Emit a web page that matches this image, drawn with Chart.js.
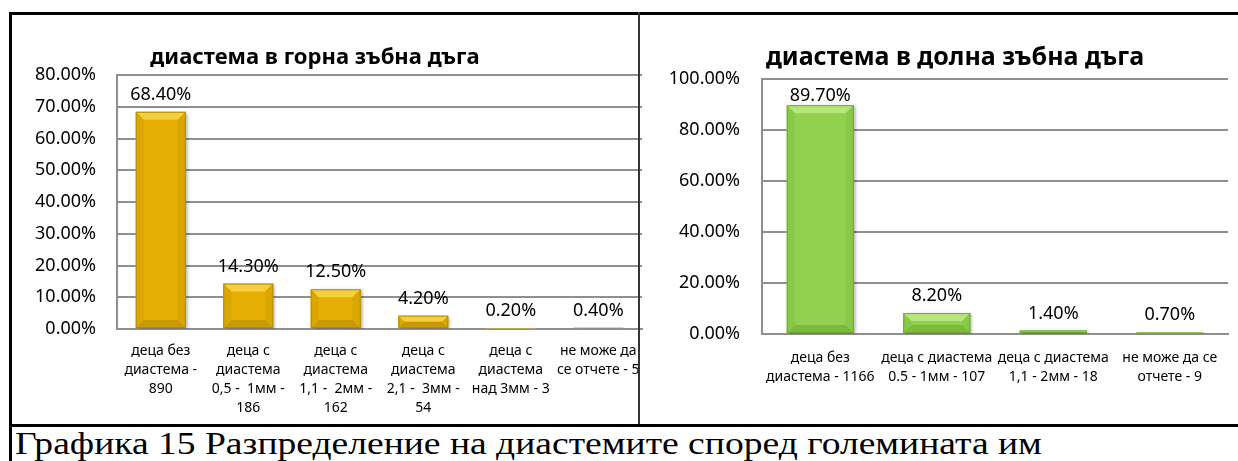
<!DOCTYPE html>
<html>
<head>
<meta charset="utf-8">
<script src="https://cdn.jsdelivr.net/npm/chart.js@4.4.1/dist/chart.umd.min.js"></script>
<style>
  html, body { margin: 0; padding: 0; background: #fff; }
  body { width: 1238px; height: 461px; position: relative; overflow: hidden; }
  .box { position: absolute; overflow: hidden; }
  .box canvas { position: absolute; top: 0; }
  .ln { position: absolute; background: #000; z-index: 5; }
  .ttl { position: absolute; width: 440px; text-align: center; font-family: "Noto Sans", sans-serif; font-weight: bold; color: #000; white-space: nowrap; z-index: 4; }
  #caption { position: absolute; left: 15px; top: 427px; font: 32px/32px "Liberation Serif", "Times New Roman", serif; white-space: nowrap; color: #000; transform: scaleX(1.174); transform-origin: 0 0; }
</style>
</head>
<body>
<div class="box" style="left:0;top:0;width:643px;height:424px"><canvas id="upper" width="657" height="425" style="left:-12px"></canvas></div>
<div class="box" style="left:640px;top:0;width:598px;height:424px"><canvas id="lower" width="598" height="425" style="left:0"></canvas></div>
<div class="ttl" id="upperTitle" style="left:95px;top:42px;font-size:22px;line-height:26px"></div>
<div class="ttl" id="lowerTitle" style="left:735px;top:40px;font-size:25px;line-height:30px"></div>
<div class="ln" style="left:9px;top:12px;width:1229px;height:3px"></div>
<div class="ln" style="left:9px;top:12px;width:3px;height:449px"></div>
<div class="ln" style="left:638px;top:12px;width:2px;height:412px;background:#333"></div>
<div class="ln" style="left:9px;top:424px;width:1229px;height:3px"></div>
<div id="caption"></div>
<script>
// ---- данни ----
const upperTitle = "диастема в горна зъбна дъга";
const upperLabels = [
  ["деца без", "диастема -", "890"],
  ["деца с", "диастема", "0,5 -  1мм -", "186"],
  ["деца с", "диастема", "1,1 -  2мм -", "162"],
  ["деца с", "диастема", "2,1 -  3мм -", "54"],
  ["деца с", "диастема", "над 3мм - 3"],
  ["не може да", "се отчете - 5"],
];
const upperValues = [68.4, 14.3, 12.5, 4.2, 0.2, 0.4];
const upperMax = 80, upperStep = 10;

const lowerTitle = "диастема в долна зъбна дъга";
const lowerLabels = [
  ["деца без", "диастема - 1166"],
  ["деца с диастема", "0.5 - 1мм - 107"],
  ["деца с диастема", "1,1 - 2мм - 18"],
  ["не може да се", "отчете - 9"],
];
const lowerValues = [89.7, 8.2, 1.4, 0.7];
const lowerMax = 100, lowerStep = 20;

const captionText = "Графика 15 Разпределение на диастемите според големината им";

const GRID = "#8f8f8f";
Chart.defaults.font.family = "'Noto Sans', sans-serif";

document.getElementById("upperTitle").textContent = upperTitle;
document.getElementById("lowerTitle").textContent = lowerTitle;
document.getElementById("caption").textContent = captionText;

// бар с "bevel" ефект като в Excel
const bevelPlugin = {
  id: "bevel",
  beforeDatasetsDraw(chart) {
    const c = chart.ctx;
    c.save();
    c.shadowColor = "rgba(0,0,0,0.3)"; c.shadowBlur = 3; c.shadowOffsetX = 2; c.shadowOffsetY = 1;
  },
  afterDatasetsDraw(chart, args, opt) {
    const ctx = chart.ctx;
    ctx.restore();
    chart.getDatasetMeta(0).data.forEach(bar => {
      const p = bar.getProps(["x", "y", "base", "width"], true);
      const l = p.x - p.width / 2, r = p.x + p.width / 2;
      const t = Math.min(p.y, p.base), b = Math.max(p.y, p.base);
      const k = Math.min(8, (b - t) / 2, p.width / 2);
      if (k <= 0) return;
      const poly = (pts, col) => {
        ctx.beginPath(); ctx.moveTo(pts[0][0], pts[0][1]);
        pts.slice(1).forEach(q => ctx.lineTo(q[0], q[1]));
        ctx.closePath(); ctx.fillStyle = col; ctx.fill();
      };
      ctx.save();
      poly([[l, t], [r, t], [r - k, t + k], [l + k, t + k]], opt.light);
      poly([[l, b], [r, b], [r - k, b - k], [l + k, b - k]], opt.dark);
      poly([[l, t], [l + k, t + k], [l + k, b - k], [l, b]], opt.side);
      poly([[r, t], [r - k, t + k], [r - k, b - k], [r, b]], opt.side);
      if (b - t > 2) { ctx.strokeStyle = opt.edge; ctx.lineWidth = 1; ctx.strokeRect(l + 0.5, t + 0.5, r - l - 1, b - t - 1); }
      ctx.restore();
    });
  }
};

const valueLabelPlugin = {
  id: "valueLabels",
  afterDatasetsDraw(chart) {
    const ctx = chart.ctx, top = chart.chartArea.top;
    const ds = chart.data.datasets[0];
    ctx.save();
    ctx.font = "18px 'Noto Sans'"; ctx.fillStyle = "#000";
    ctx.textAlign = "center"; ctx.textBaseline = "middle";
    chart.getDatasetMeta(0).data.forEach((bar, i) => {
      ctx.fillText(ds.data[i].toFixed(2) + "%", bar.x, Math.max(bar.y - 17, top + 17));
    });
    ctx.restore();
  }
};

function makeChart(id, labels, values, o) {
  return new Chart(document.getElementById(id), {
    type: "bar",
    data: { labels, datasets: [{ data: values, backgroundColor: o.face, borderWidth: 0, barPercentage: o.barPct, categoryPercentage: 1 }] },
    options: {
      responsive: false, animation: false,
      layout: { padding: { left: o.padL, right: o.padR, top: o.padT, bottom: 0 } },
      plugins: {
        legend: { display: false }, tooltip: { enabled: false }, title: { display: false },
        bevel: { light: o.light, dark: o.dark, side: o.side, edge: o.edge },
      },
      scales: {
        x: {
          grid: { display: false },
          border: { display: true, color: GRID, width: 2 },
          ticks: { color: "#000", font: { size: 14, lineHeight: 1.36 }, padding: o.xPad, autoSkip: false, maxRotation: 0, minRotation: 0 },
          afterFit: s => { s.height = o.xHeight; },
        },
        y: {
          min: 0, max: o.max,
          ticks: { stepSize: o.step, color: "#000", font: { size: 18 }, padding: o.yPad, callback: v => v.toFixed(2) + "%" },
          grid: { color: GRID, lineWidth: 2, drawTicks: false },
          border: { display: true, color: GRID, width: 2 },
          afterFit: s => { s.width = o.yWidth; },
        },
      },
    },
    plugins: [bevelPlugin, valueLabelPlugin],
  });
}

makeChart("upper", upperLabels, upperValues, {
  max: upperMax, step: upperStep, padL: 0, padR: 3, padT: 75, yWidth: 129, yPad: 21, xPad: 4.5, xHeight: 96,
  barPct: 0.571, face: "#E4AF02", light: "#F5D03E", dark: "#C99A00", side: "#DAA600", edge: "#B98C00",
});

makeChart("lower", lowerLabels, lowerValues, {
  max: lowerMax, step: lowerStep, padL: 0, padR: 10, padT: 79, yWidth: 122, yPad: 22, xPad: 6.5, xHeight: 91,
  barPct: 0.575, face: "#92D050", light: "#B6E57B", dark: "#7CBA3C", side: "#89C849", edge: "#6FA834",
});
</script>
</body>
</html>
